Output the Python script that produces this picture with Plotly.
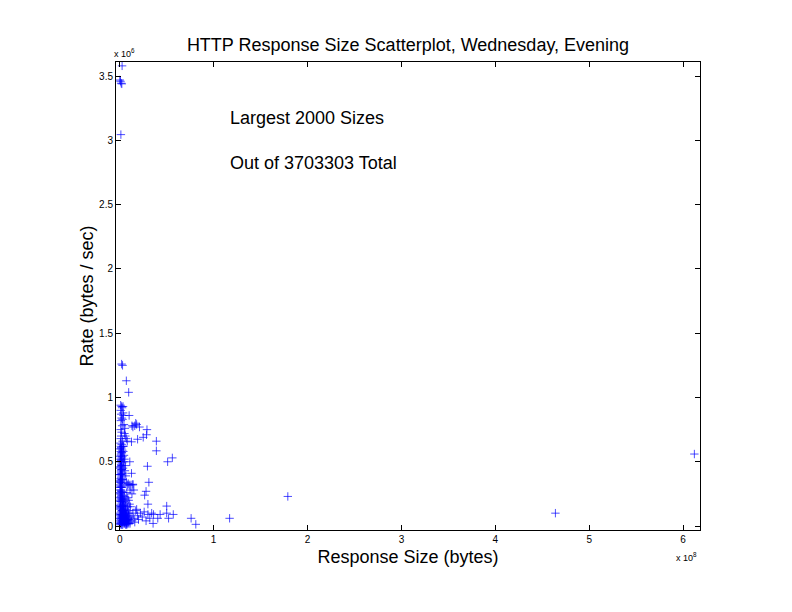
import plotly.graph_objects as go

# Response size in units of 1e8 bytes, rate in units of 1e6 bytes/sec
size_e8 = [
    0.025, 0.0, 0.008, 0.015, 0.022, 0.012, 0.02, 0.03, 0.07, 0.095,
    6.12, 4.64, 1.79, 1.17, 0.76, 0.81, 0.355, 0.52, 0.57, 0.43, 0.36, 0.50, 0.50,
    0.30, 0.265, 0.15, 0.14, 0.31, 0.295, 0.56, 0.51, 0.39, 0.39, 0.125, 0.19, 0.25,
    0.285, 0.29, 0.21, 0.17, 0.14, 0.10, 0.107, 0.125, 0.16, 0.18, 0.13, 0.28,
    0.005, 0.012, 0.02, 0.008, 0.03, 0.015, 0.004, 0.022, 0.01, 0.027,
    0.006, 0.018, 0.011, 0.024, 0.007, 0.014, 0.02, 0.009, 0.016, 0.005,
    0.013, 0.021, 0.008, 0.015, 0.011, 0.018, 0.006, 0.014, 0.01, 0.017,
    0.012, 0.02, 0.007, 0.015, 0.023, 0.025, 0.028, 0.03, 0.026, 0.032,
    0.035, 0.038, 0.04, 0.045, 0.05, 0.055, 0.06, 0.065, 0.07, 0.075,
    0.08, 0.042, 0.048, 0.052, 0.058, 0.062, 0.068, 0.072, 0.078, 0.085,
    0.09, 0.095, 0.1, 0.11, 0.12, 0.13, 0.14, 0.15, 0.16, 0.17,
    0.18, 0.19, 0.2, 0.22, 0.24, 0.26, 0.28, 0.3, 0.32, 0.34,
    0.01, 0.015, 0.02, 0.01, 0.025, 0.012, 0.02, 0.03, 0.015, 0.01,
    0.025, 0.035, 0.04, 0.045, 0.05, 0.055, 0.06, 0.07, 0.08, 0.03,
    0.04, 0.045, 0.05, 0.06, 0.055, 0.065, 0.07, 0.08, 0.09, 0.1,
    0.12, 0.14, 0.11, 0.13, 0.075, 0.085, 0.095, 0.105, 0.115, 0.035,
    0.04, 0.038, 0.028, 0.033, 0.003, 0.003, 0.003, 0.002, 0.004, 0.006,
    0.009, 0.013, 0.017, 0.019, 0.022, 0.029, 0.034, 0.037, 0.044, 0.047,
    0.054, 0.063, 0.067, 0.082, 0.092, 0.1, 0.02, 0.01, 0.035, 0.405,
    0.004, 0.008, 0.012, 0.016, 0.006, 0.01, 0.014, 0.018, 0.022, 0.026,
    0.005, 0.009, 0.013, 0.017, 0.021, 0.007, 0.011, 0.019, 0.024, 0.003,
    0.002, 0.006, 0.01, 0.014, 0.018, 0.004, 0.008, 0.012, 0.016, 0.02,
    0.031, 0.036, 0.041, 0.046, 0.051, 0.057, 0.061, 0.066, 0.073, 0.079,
    0.003, 0.007, 0.011, 0.015, 0.019, 0.023, 0.027, 0.031, 0.035, 0.039,
    0.043, 0.049, 0.053, 0.059, 0.064, 0.069, 0.074, 0.081, 0.088, 0.096,
    0.005, 0.009, 0.013, 0.017, 0.021, 0.025, 0.029, 0.033, 0.037, 0.041,
    0.012, 0.016, 0.024, 0.028, 0.036, 0.014, 0.018, 0.022, 0.026, 0.008,
]
rate_e6 = [
    3.58, 3.47, 3.46, 3.445, 3.44, 3.045, 1.26, 1.25, 1.13, 1.04,
    0.56, 0.10, 0.23, 0.06, 0.06, 0.013, 0.02, 0.06, 0.09, 0.09, 0.09, 0.10, 0.155,
    0.17, 0.24, 0.28, 0.325, 0.34, 0.465, 0.53, 0.50, 0.585, 0.66, 0.655, 0.675, 0.69,
    0.71, 0.75, 0.77, 0.80, 0.77, 0.86, 0.50, 0.41, 0.78, 0.79, 0.78, 0.27,
    0.02, 0.05, 0.01, 0.08, 0.03, 0.11, 0.14, 0.07, 0.17, 0.12,
    0.20, 0.22, 0.25, 0.18, 0.28, 0.30, 0.33, 0.35, 0.38, 0.40,
    0.42, 0.44, 0.46, 0.48, 0.50, 0.52, 0.54, 0.56, 0.58, 0.60,
    0.62, 0.635, 0.645, 0.61, 0.57, 0.49, 0.41, 0.36, 0.30, 0.26,
    0.21, 0.16, 0.12, 0.09, 0.05, 0.03, 0.07, 0.02, 0.05, 0.01,
    0.04, 0.19, 0.14, 0.11, 0.10, 0.13, 0.09, 0.08, 0.11, 0.06,
    0.03, 0.08, 0.05, 0.02, 0.07, 0.04, 0.10, 0.06, 0.03, 0.12,
    0.13, 0.08, 0.05, 0.10, 0.07, 0.11, 0.04, 0.09, 0.06, 0.10,
    0.68, 0.70, 0.73, 0.75, 0.78, 0.82, 0.84, 0.83, 0.87, 0.90,
    0.92, 0.88, 0.86, 0.79, 0.72, 0.76, 0.70, 0.68, 0.66, 0.66,
    0.62, 0.55, 0.52, 0.47, 0.43, 0.39, 0.34, 0.32, 0.33, 0.32,
    0.32, 0.32, 0.28, 0.25, 0.26, 0.22, 0.20, 0.17, 0.15, 0.45,
    0.50, 0.58, 0.54, 0.62, 0.30, 0.50, 0.10, 0.60, 0.45, 0.35,
    0.15, 0.07, 0.03, 0.27, 0.39, 0.20, 0.07, 0.03, 0.04, 0.23,
    0.18, 0.16, 0.21, 0.15, 0.12, 0.10, 0.93, 0.94, 0.93, 0.06,
    0.06, 0.13, 0.19, 0.24, 0.32, 0.37, 0.43, 0.47, 0.53, 0.59,
    0.26, 0.31, 0.36, 0.41, 0.47, 0.52, 0.55, 0.09, 0.04, 0.22,
    0.04, 0.09, 0.15, 0.21, 0.27, 0.34, 0.40, 0.46, 0.51, 0.57,
    0.15, 0.12, 0.08, 0.05, 0.02, 0.10, 0.06, 0.04, 0.02, 0.07,
    0.01, 0.03, 0.06, 0.02, 0.09, 0.04, 0.06, 0.01, 0.10, 0.05,
    0.02, 0.06, 0.03, 0.05, 0.01, 0.04, 0.03, 0.02, 0.05, 0.02,
    0.16, 0.19, 0.23, 0.14, 0.12, 0.08, 0.15, 0.11, 0.13, 0.08,
    0.28, 0.34, 0.21, 0.24, 0.17, 0.40, 0.44, 0.31, 0.36, 0.25,
]

x_ticks = [0, 1, 2, 3, 4, 5, 6]
y_ticks = [0, 0.5, 1, 1.5, 2, 2.5, 3, 3.5]

sizes = [v * 1e8 for v in size_e8]
rates = [v * 1e6 for v in rate_e6]

FONT = "Liberation Sans, Arial, Helvetica, sans-serif"

fig = go.Figure()
fig.add_trace(go.Scatter(
    x=sizes, y=rates, mode="markers",
    marker=dict(symbol="cross-thin", size=6, color="rgba(0,0,255,0.7)",
                line=dict(width=1, color="rgba(0,0,255,0.7)")),
    showlegend=False, hoverinfo="skip",
))

fig.update_layout(
    width=784, height=604,
    paper_bgcolor="white", plot_bgcolor="white",
    margin=dict(l=108, r=92, t=54, b=82),
    font=dict(family=FONT, color="black", size=10),
    title=dict(text="HTTP Response Size Scatterplot, Wednesday, Evening",
               x=(408 - 8) / 784, xanchor="center", y=1 - 37 / 604, yanchor="middle",
               font=dict(size=18, family=FONT)),
    xaxis=dict(
        range=[-0.04e8, 6.18e8], tickvals=[t * 1e8 for t in x_ticks],
        ticktext=[str(t) for t in x_ticks], ticks="inside", ticklen=5,
        tickcolor="black", showline=True, linecolor="black", linewidth=1,
        mirror="ticks", showgrid=False, zeroline=False,
        title=dict(text="Response Size (bytes)", font=dict(size=18, family=FONT), standoff=6),
        tickfont=dict(size=10),
    ),
    yaxis=dict(
        range=[-0.031e6, 3.61e6], tickvals=[t * 1e6 for t in y_ticks],
        ticktext=["0", "0.5", "1", "1.5", "2", "2.5", "3", "3.5"], ticks="inside", ticklen=5,
        tickcolor="black", showline=True, linecolor="black", linewidth=1,
        mirror="ticks", showgrid=False, zeroline=False,
        title=dict(text="Rate (bytes / sec)", font=dict(size=18, family=FONT), standoff=0),
        tickfont=dict(size=10),
    ),
)

fig.add_annotation(text="x 10<sup>6</sup>", xref="paper", yref="paper",
                   x=-0.006, y=1.002, xanchor="left", yanchor="bottom",
                   showarrow=False, font=dict(size=9, family=FONT))
fig.add_annotation(text="x 10<sup>8</sup>", xref="paper", yref="paper",
                   x=0.998, y=-0.04, xanchor="right", yanchor="top",
                   showarrow=False, font=dict(size=9, family=FONT))
fig.add_annotation(text="Largest 2000 Sizes", xref="paper", yref="paper",
                   x=(228 - 116) / 584, y=(530 - 118) / 468, xanchor="left", yanchor="middle",
                   showarrow=False, font=dict(size=18, family=FONT))
fig.add_annotation(text="Out of 3703303 Total", xref="paper", yref="paper",
                   x=(228 - 116) / 584, y=(530 - 163) / 468, xanchor="left", yanchor="middle",
                   showarrow=False, font=dict(size=18, family=FONT))

fig.write_html("out.html")
